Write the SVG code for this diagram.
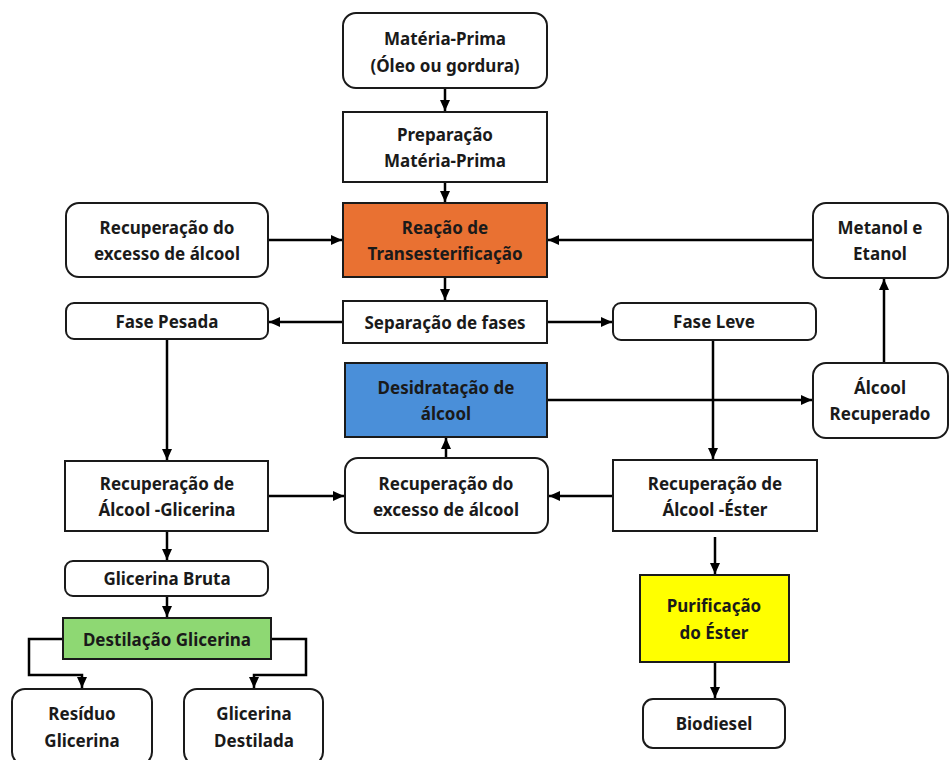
<svg xmlns="http://www.w3.org/2000/svg" width="949" height="760" viewBox="0 0 949 760">
<style>
.box{fill:#fff;stroke:#1a1a1a;stroke-width:2}
.t{font-family:"Noto Sans","Liberation Sans",sans-serif;font-weight:bold;font-size:17px;fill:#1a1a1a;text-anchor:middle;dominant-baseline:central}
.c{fill:none;stroke:#000;stroke-width:2.5}
</style>
<defs>
<marker id="ah" markerUnits="userSpaceOnUse" markerWidth="12" markerHeight="12" refX="11" refY="6" orient="auto">
<path d="M0,1 L11,6 L0,11 Z" fill="#000"/>
</marker>
</defs>
<rect width="949" height="760" fill="#fff"/>
<g id="connectors">
<line class="c" x1="445" y1="88" x2="445" y2="111" marker-end="url(#ah)"/>
<line class="c" x1="445" y1="182" x2="445" y2="202" marker-end="url(#ah)"/>
<line class="c" x1="445" y1="277" x2="445" y2="300" marker-end="url(#ah)"/>
<line class="c" x1="268" y1="240" x2="342" y2="240" marker-end="url(#ah)"/>
<line class="c" x1="813" y1="240" x2="548" y2="240" marker-end="url(#ah)"/>
<line class="c" x1="343" y1="322" x2="269" y2="322" marker-end="url(#ah)"/>
<line class="c" x1="547" y1="322" x2="612" y2="322" marker-end="url(#ah)"/>
<line class="c" x1="167" y1="339" x2="167" y2="460" marker-end="url(#ah)"/>
<line class="c" x1="713" y1="340" x2="713" y2="459" marker-end="url(#ah)"/>
<line class="c" x1="884" y1="363" x2="884" y2="279" marker-end="url(#ah)"/>
<line class="c" x1="547" y1="400" x2="812" y2="400" marker-end="url(#ah)"/>
<line class="c" x1="268" y1="496" x2="344" y2="496" marker-end="url(#ah)"/>
<line class="c" x1="613" y1="496" x2="549" y2="496" marker-end="url(#ah)"/>
<line class="c" x1="446" y1="458" x2="446" y2="438" marker-end="url(#ah)"/>
<line class="c" x1="167" y1="531" x2="167" y2="560" marker-end="url(#ah)"/>
<line class="c" x1="715" y1="537" x2="715" y2="574" marker-end="url(#ah)"/>
<line class="c" x1="167" y1="596" x2="167" y2="617" marker-end="url(#ah)"/>
<line class="c" x1="715" y1="662" x2="715" y2="698" marker-end="url(#ah)"/>
<polyline class="c" points="63,639 29,639 29,675 82,675 82,688" marker-end="url(#ah)"/>
<polyline class="c" points="271,639 306,639 306,675 254,675 254,688" marker-end="url(#ah)"/>
</g>
<g id="materia-prima"><rect class="box" x="343" y="13" width="204" height="75" rx="13"/><text class="t" x="445" y="38">Matéria-Prima</text><text class="t" x="445" y="65">(Óleo ou gordura)</text></g>
<g id="preparacao"><rect class="box" x="343" y="112" width="204" height="70"/><text class="t" x="445" y="134">Preparação</text><text class="t" x="445" y="160">Matéria-Prima</text></g>
<g id="reacao"><rect class="box" x="343" y="203" width="204" height="74" style="fill:#E97132"/><text class="t" x="445" y="227">Reação de</text><text class="t" x="445" y="253">Transesterificação</text></g>
<g id="recuperacao-topo"><rect class="box" x="66" y="203" width="202" height="74" rx="13"/><text class="t" x="167" y="227">Recuperação do</text><text class="t" x="167" y="253">excesso de álcool</text></g>
<g id="metanol"><rect class="box" x="813" y="203" width="135" height="75" rx="13"/><text class="t" x="880" y="227">Metanol e</text><text class="t" x="880" y="253">Etanol</text></g>
<g id="separacao"><rect class="box" x="343" y="301" width="204" height="42"/><text class="t" x="445" y="322">Separação de fases</text></g>
<g id="fase-pesada"><rect class="box" x="66" y="303" width="202" height="36" rx="8"/><text class="t" x="167" y="321">Fase Pesada</text></g>
<g id="fase-leve"><rect class="box" x="613" y="303" width="203" height="37" rx="8"/><text class="t" x="714" y="321">Fase Leve</text></g>
<g id="desidratacao"><rect class="box" x="345" y="363" width="202" height="74" style="fill:#4A8FD9"/><text class="t" x="446" y="387">Desidratação de</text><text class="t" x="446" y="413">álcool</text></g>
<g id="alcool-recuperado"><rect class="box" x="813" y="363" width="135" height="75" rx="13"/><text class="t" x="880" y="387">Álcool</text><text class="t" x="880" y="413">Recuperado</text></g>
<g id="recuperacao-glicerina"><rect class="box" x="65" y="461" width="203" height="70"/><text class="t" x="167" y="483">Recuperação de</text><text class="t" x="167" y="509">Álcool -Glicerina</text></g>
<g id="recuperacao-meio"><rect class="box" x="345" y="458" width="203" height="75" rx="13"/><text class="t" x="446" y="483">Recuperação do</text><text class="t" x="446" y="509">excesso de álcool</text></g>
<g id="recuperacao-ester"><rect class="box" x="613" y="460" width="204" height="71"/><text class="t" x="715" y="483">Recuperação de</text><text class="t" x="715" y="509">Álcool -Éster</text></g>
<g id="glicerina-bruta"><rect class="box" x="65" y="561" width="203" height="35" rx="8"/><text class="t" x="167" y="578">Glicerina Bruta</text></g>
<g id="destilacao"><rect class="box" x="63" y="618" width="208" height="41" style="fill:#8ED873"/><text class="t" x="167" y="639">Destilação Glicerina</text></g>
<g id="purificacao"><rect class="box" x="640" y="575" width="149" height="87" style="fill:#FFFF00"/><text class="t" x="714" y="605">Purificação</text><text class="t" x="714" y="632">do Éster</text></g>
<g id="biodiesel"><rect class="box" x="643" y="699" width="142" height="49" rx="10"/><text class="t" x="714" y="723">Biodiesel</text></g>
<g id="residuo"><rect class="box" x="12" y="689" width="140" height="76" rx="13"/><text class="t" x="82" y="713">Resíduo</text><text class="t" x="82" y="740">Glicerina</text></g>
<g id="glicerina-destilada"><rect class="box" x="184" y="689" width="139" height="76" rx="13"/><text class="t" x="254" y="713">Glicerina</text><text class="t" x="254" y="740">Destilada</text></g>
</svg>
